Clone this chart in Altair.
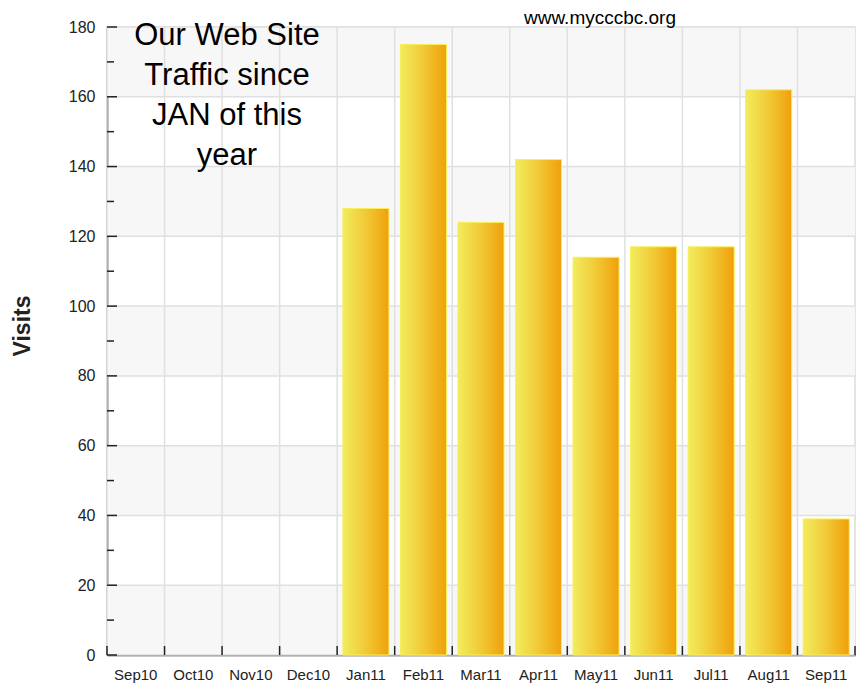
import altair as alt
import pandas as pd

months = ["Sep10", "Oct10", "Nov10", "Dec10", "Jan11", "Feb11", "Mar11",
          "Apr11", "May11", "Jun11", "Jul11", "Aug11", "Sep11"]
visits = [0, 0, 0, 0, 128, 175, 124, 142, 114, 117, 117, 162, 39]

y_major = [0, 20, 40, 60, 80, 100, 120, 140, 160, 180]
y_minor = [10, 30, 50, 70, 90, 110, 130, 150, 170]
stripe_lo = [0, 40, 80, 120, 160]
stripe_hi = [20, 60, 100, 140, 180]

title_lines = ["Our Web Site", "Traffic since", "JAN of this", "year"]
site_text = "www.mycccbc.org"
y_title = "Visits"

W, H = 748, 628
FONT = "Liberation Sans"

df = pd.DataFrame({"month": months, "visits": visits})
df_major = pd.DataFrame({"v": y_major})
df_minor = pd.DataFrame({"v": y_minor})
df_stripe = pd.DataFrame({"lo": stripe_lo, "hi": stripe_hi})
df_last = pd.DataFrame({"month": [months[-1]]})

xscale = alt.Scale(domain=months, paddingInner=0, paddingOuter=0)
yscale = alt.Scale(domain=[0, 180], nice=False, zero=True)
xaxis = alt.Axis(title=None, labelAngle=0)
yaxis = alt.Axis(title=None, values=y_major)

stripes = alt.Chart(df_stripe).mark_rect(color="#f7f7f7").encode(
    x=alt.value(0), x2=alt.value(W),
    y=alt.Y("lo:Q", scale=yscale, axis=yaxis), y2="hi:Q")

hgrid = alt.Chart(df_major).mark_rule(color="#e0e0e0", strokeWidth=1.5).encode(
    y=alt.Y("v:Q", scale=yscale, axis=yaxis))

vgrid = alt.Chart(df).mark_rule(color="#e0e0e0", strokeWidth=1.5).encode(
    x=alt.X("month:N", scale=xscale, axis=xaxis, bandPosition=0, sort=months))

grad = alt.Gradient(
    gradient="linear",
    stops=[alt.GradientStop(color="#f2ec5e", offset=0),
           alt.GradientStop(color="#f1c936", offset=0.5),
           alt.GradientStop(color="#f0a00a", offset=1)],
    x1=0, x2=1, y1=0, y2=0)

bars = alt.Chart(df).transform_filter("datum.visits > 0").mark_bar(
    width=alt.RelativeBandSize(0.8), color=grad, stroke="#f7ef5a", strokeWidth=1
).encode(
    x=alt.X("month:N", scale=xscale, axis=xaxis, sort=months),
    y=alt.Y("visits:Q", scale=yscale, axis=yaxis))

ymaj_ticks = alt.Chart(df_major).mark_rule(color="#222", strokeWidth=1.5).encode(
    y=alt.Y("v:Q", scale=yscale, axis=yaxis), x=alt.value(0), x2=alt.value(10))
ymin_ticks = alt.Chart(df_minor).mark_rule(color="#222", strokeWidth=1.5).encode(
    y=alt.Y("v:Q", scale=yscale, axis=yaxis), x=alt.value(0), x2=alt.value(7))

x_ticks = alt.Chart(df).mark_rule(color="#222", strokeWidth=1.5).encode(
    x=alt.X("month:N", scale=xscale, axis=xaxis, bandPosition=0, sort=months),
    y=alt.value(H - 9), y2=alt.value(H))
x_tick_last = alt.Chart(df_last).mark_rule(color="#222", strokeWidth=1.5).encode(
    x=alt.X("month:N", scale=xscale, axis=xaxis, bandPosition=1, sort=months),
    y=alt.value(H - 9), y2=alt.value(H))

title_txt = alt.Chart(pd.DataFrame({"t": [0]})).mark_text(
    font=FONT, fontSize=31, lineHeight=40, align="center", baseline="alphabetic",
    color="#000"
).encode(x=alt.value(120), y=alt.value(18), text=alt.value(title_lines))

site_txt = alt.Chart(pd.DataFrame({"t": [0]})).mark_text(
    font=FONT, fontSize=19, align="center", baseline="alphabetic", color="#000"
).encode(x=alt.value(493), y=alt.value(-3), text=alt.value(site_text))

ytitle_txt = alt.Chart(pd.DataFrame({"t": [0]})).mark_text(
    font=FONT, fontSize=23, fontWeight="bold", align="center", baseline="middle",
    angle=270, color="#222"
).encode(x=alt.value(-84), y=alt.value(299), text=alt.value(y_title))

chart = alt.layer(
    stripes, hgrid, vgrid, bars, ymaj_ticks, ymin_ticks, x_ticks, x_tick_last,
    title_txt, site_txt, ytitle_txt
).properties(
    width=W, height=H,
    padding={"left": 99, "top": 19, "right": 3, "bottom": 30},
    autosize=alt.AutoSizeParams(type="none"),
    background="#ffffff",
).configure_view(
    stroke="#dcdcdc", strokeWidth=1.5, fill="#ffffff"
).configure_axisX(
    grid=False, ticks=False, tickSize=0, domainColor="#222", domainWidth=1.5,
    labelFont=FONT, labelFontSize=15, labelColor="#222", labelPadding=12,
    labelAngle=0
).configure_axisY(
    grid=False, ticks=False, tickSize=0, domainColor="#222", domainWidth=1.5,
    labelFont=FONT, labelFontSize=16, labelColor="#222", labelPadding=12
)

chart.save("out.html", embed_options={"renderer": "svg", "actions": False})
